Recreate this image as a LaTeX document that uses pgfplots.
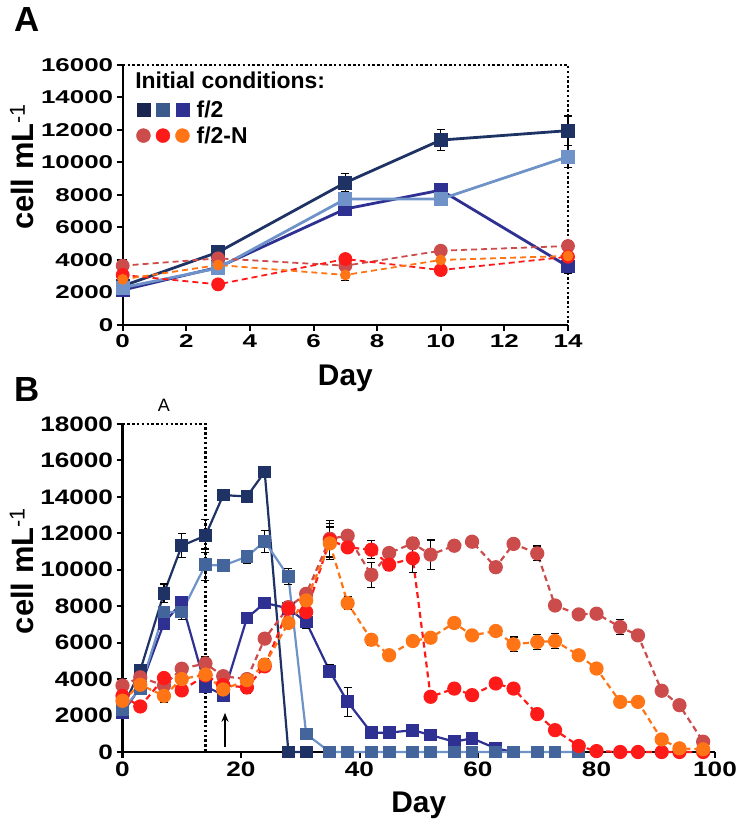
\documentclass[border=0pt]{standalone}
\usepackage{fontspec}
\setmainfont{Liberation Sans}
\usepackage{graphicx}
\usepackage{pgfplots}
\usetikzlibrary{arrows.meta}
\pgfplotsset{compat=1.18}
\definecolor{cnavy}{HTML}{1F3264}
\definecolor{csteel}{HTML}{6F93C8}
\definecolor{csteelm}{HTML}{44659C}
\definecolor{cindigo}{HTML}{2E3192}
\definecolor{cbrick}{HTML}{CC4B4B}
\definecolor{cred}{HTML}{FF1A1A}
\definecolor{corange}{HTML}{FF7415}
\definecolor{lnavy}{HTML}{1A2550}
\definecolor{lsteel}{HTML}{3D5A8C}
\pgfplotsset{
  myerr/.style={error bars/y dir=both, error bars/y explicit,
    error bars/error bar style={black,line width=1.2bp,solid},
    error bars/error mark options={rotate=90,black,mark size=4bp,line width=1.2bp,solid}},
  fA/.style={myerr, solid, line width=2.8bp, mark=square*, mark size=5.5bp, mark options={solid,fill=#1,draw=#1}, color=#1},
  nA/.style={myerr, line width=1.8bp, dash pattern=on 6bp off 4bp, mark=*, mark size=6bp, mark options={solid,fill=#1,draw=#1}, color=#1},
  fB/.style={myerr, solid, line width=2.2bp, mark=square*, mark size=5.3bp, mark options={solid,fill=#1,draw=#1}, color=#1},
  nB/.style={myerr, line width=2.2bp, dash pattern=on 6bp off 4bp, mark=*, mark size=6bp, mark options={solid,fill=#1,draw=#1}, color=#1},
  common/.style={
    scale only axis, anchor=south west,
    axis x line=bottom, axis y line=left,
    axis line style={-, line width=2bp, black},
    every outer x axis line/.append style={-},
    every outer y axis line/.append style={-},
    tick align=outside, major tick length=6bp,
    tick style={line width=2bp, black},
    scaled y ticks=false, scaled x ticks=false,
    /pgf/number format/assume math mode=true,
    /pgf/number format/set thousands separator={},
    clip=false,
  },
}
\begin{document}
\begin{tikzpicture}
\useasboundingbox (0,0) rectangle (742bp,828bp);
\node[font=\bfseries\fontsize{35}{35}\selectfont] at (27bp,808bp) {A};
\node[font=\bfseries\fontsize{35}{35}\selectfont] at (27bp,438bp) {B};
% Panel A
\begin{axis}[common,
  at={(122.7bp,503bp)}, width=445.3bp, height=260bp,
  xmin=0, xmax=14, ymin=0, ymax=16000,
  xtick={0,2,...,14}, ytick={0,2000,...,16000},
  ticklabel style={font=\bfseries\fontsize{18.6}{18.6}\selectfont},
  xticklabel={\scalebox{1.4}[1]{\pgfmathprintnumber{\tick}}},
  yticklabel={\scalebox{1.4}[1]{\pgfmathprintnumber{\tick}}},
  xlabel={Day}, ylabel={cell mL\textsuperscript{\mdseries -1}},
  xlabel style={font=\bfseries\fontsize{30}{30}\selectfont, at={(axis description cs:0.5,-0.204)}, anchor=center},
  ylabel style={font=\bfseries\fontsize{31}{31}\selectfont, at={(axis description cs:-0.226,0.608)}, anchor=center},
  legend style={at={(axis description cs:0.03,0.872)}, anchor=north west, draw=none, fill=none, inner sep=0pt,
    font=\bfseries\fontsize{23}{23}\selectfont, row sep=4bp, legend cell align=left,
    /tikz/every odd column/.append style={column sep=5bp}},
]
\addplot[fA=cindigo, forget plot] table[y error=e] {
x y e
0 2150 150
3 3550 250
7 7140 200
10 8300 300
14 3600 400
};
\addplot[fA=cnavy, forget plot] table[y error=e] {
x y e
0 2400 200
3 4480 200
7 8760 550
10 11380 650
14 11960 900
};
\addplot[fA=csteel, forget plot] table[y error=e] {
x y e
0 2300 150
3 3500 300
7 7750 300
10 7750 400
14 10360 680
};
\addplot[nA=cbrick, forget plot] table[y error=e] {
x y e
0 3650 400
3 4100 200
7 3650 250
10 4570 200
14 4860 350
};
\addplot[nA=cred, forget plot] table[y error=e] {
x y e
0 3080 200
3 2500 200
7 4060 200
10 3380 300
14 4200 200
};
\addplot[nA=corange, forget plot, mark size=4.5bp] table[y error=e] {
x y e
0 2810 200
3 3690 200
7 3080 360
10 4000 150
14 4250 150
};
\draw[black, line width=2.2bp, dash pattern=on 2.4bp off 2.4bp] (axis cs:0,16000) -- (axis cs:14,16000) -- (axis cs:14,0);
\node[anchor=west, font=\bfseries\fontsize{23}{23}\selectfont, inner sep=0pt] at (axis description cs:0.028,0.942) {Initial conditions:};
\addlegendimage{legend image code/.code={
  \fill[lnavy] (0bp,-6.5bp) rectangle (13bp,6.5bp);
  \fill[lsteel] (19.5bp,-6.5bp) rectangle (32.5bp,6.5bp);
  \fill[cindigo] (39bp,-6.5bp) rectangle (52bp,6.5bp);}}
\addlegendentry{f/2}
\addlegendimage{legend image code/.code={
  \fill[cbrick] (6.5bp,0bp) circle (7bp);
  \fill[cred] (26bp,0bp) circle (7bp);
  \fill[corange] (45.5bp,0bp) circle (7bp);}}
\addlegendentry{f/2-N}
\end{axis}
% Panel B
\begin{axis}[common,
  at={(122.5bp,76bp)}, width=592.5bp, height=328bp,
  xmin=0, xmax=100, ymin=0, ymax=18000,
  xtick={0,20,...,100}, ytick={0,2000,...,18000},
  ticklabel style={font=\bfseries\fontsize{21}{21}\selectfont},
  xticklabel={\scalebox{1.25}[1]{\pgfmathprintnumber{\tick}}},
  yticklabel={\scalebox{1.25}[1]{\pgfmathprintnumber{\tick}}},
  xlabel={Day}, ylabel={cell mL\textsuperscript{\mdseries -1}},
  xlabel style={font=\bfseries\fontsize{30}{30}\selectfont, at={(axis description cs:0.5,-0.162)}, anchor=center},
  ylabel style={font=\bfseries\fontsize{31}{31}\selectfont, at={(axis description cs:-0.17,0.552)}, anchor=center},
]
\addplot[fB=cindigo] table[y error=e] {
x y e
0 2150 150
3 3550 250
7 7070 300
10 8220 300
14 3610 300
17 3120 200
21 7350 200
24 8180 300
28 7880 300
31 7130 350
35 4420 350
38 2750 800
42 1060 200
45 1060 100
49 1200 200
52 930 100
56 565 100
59 750 250
63 200 100
66 0 0
};
\addplot[fB=cnavy] table[y error=e] {
x y e
0 2400 200
3 4480 200
7 8720 500
10 11320 650
14 11870 900
17 14100 100
21 14020 100
24 15370 250
28 0 0
31 0 0
};
\addplot[fB=csteel, mark options={solid,fill=csteelm,draw=csteelm}] table[y error=e] {
x y e
0 2300 150
3 3500 300
7 7680 300
10 7680 400
14 10270 870
17 10230 150
21 10720 350
24 11560 600
28 9630 450
31 985 0
35 0 0
38 0 0
42 0 0
45 0 0
49 0 0
52 0 0
56 0 0
59 0 0
63 0 0
66 0 0
70 0 0
73 0 0
77 0 0
};
\addplot[nB=cbrick] table[y error=e] {
x y e
0 3650 400
3 4100 200
7 3650 250
10 4570 200
14 4860 350
17 4160 200
21 4000 200
24 6220 200
28 7950 300
31 8680 300
35 11700 1000
38 11870 300
42 9720 700
45 10920 200
49 11450 300
52 10830 800
56 11320 100
59 11540 100
63 10140 100
66 11420 200
70 10900 400
73 8040 0
77 7550 200
80 7590 0
84 6860 400
87 6400 0
91 3360 0
94 2570 0
98 565 200
};
\addplot[nB=cred] table[y error=e] {
x y e
0 3080 200
3 2500 200
7 4060 200
10 3380 300
14 4200 200
17 3670 200
21 3540 300
24 4700 200
28 7860 300
31 7680 200
35 11630 900
38 11230 100
42 11100 500
45 10280 300
49 10630 800
52 3030 100
56 3480 200
59 3120 200
63 3760 200
66 3480 100
70 2080 0
73 1200 0
77 330 0
80 50 0
84 0 0
87 0 0
91 0 0
94 0 0
98 0 0
};
\addplot[nB=corange] table[y error=e] {
x y e
0 2810 200
3 3690 200
7 3080 360
10 4000 150
14 4250 150
17 3430 200
21 3940 200
24 4800 300
28 7080 300
31 8320 300
35 11450 900
38 8170 350
42 6160 300
45 5310 0
49 6090 300
52 6270 200
56 7080 300
59 6400 100
63 6640 100
66 5910 400
70 6040 400
73 6090 400
77 5310 0
80 4580 0
84 2750 100
87 2750 300
91 690 0
94 200 0
98 150 0
};
\draw[black, line width=2.2bp, dash pattern=on 2.4bp off 2.4bp] (axis cs:0,18000) -- (axis cs:14,18000) -- (axis cs:14,0);
\node[font=\fontsize{18}{18}\selectfont] at (axis cs:7,19000) {A};
\draw[-{Stealth[length=9bp,width=7bp]}, line width=1.5bp, black] (axis cs:17.3,300) -- (axis cs:17.3,2150);
\end{axis}
\end{tikzpicture}
\end{document}
